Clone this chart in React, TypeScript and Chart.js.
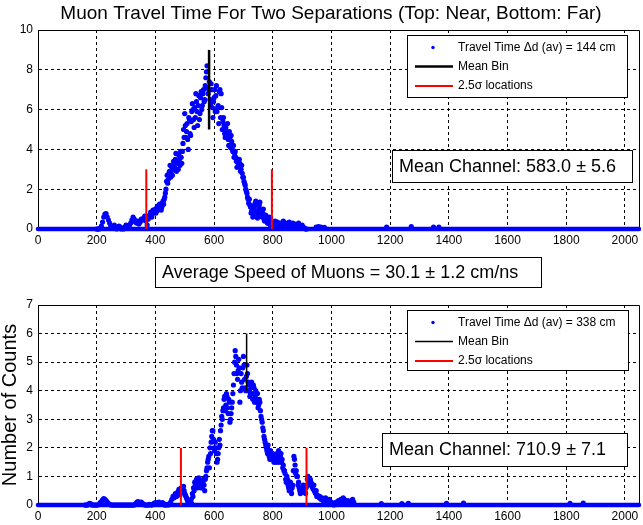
import React, { useEffect, useRef } from 'react';
import { Chart, registerables } from 'chart.js';

Chart.register(...registerables);

const FONT = '"Liberation Sans", Arial, Helvetica, sans-serif';
const BLUE = '#0000ff';
const RED = '#ff0000';

// ---------------- data ----------------
const chartTitle = 'Muon Travel Time For Two Separations (Top: Near, Bottom: Far)';
const yAxisTitle = 'Number of Counts';
const channelMax = 2048;
const channelStep = 4;
const xTickStep = 200;

// Near separation (top panel)
const nearLabel = 'Travel Time \u0394d (av) = 144 cm';
const nearStartChannel = 200;
const nearCounts = [
  0, 0, 0, 0.05, 0.15, 0.35, 0.6, 0.75, 0.78, 0.6,
  0.45, 0.3, 0.15, 0.05, 0.1, 0.2, 0.1, 0, 0.05, 0.15,
  0.1, 0, 0.05, 0, 0.1, 0.2, 0.1, 0.05, 0.2, 0.3,
  0.45, 0.6, 0.5, 0.35, 0.3, 0.4, 0.25, 0.35, 0.5, 0.45,
  0.55, 0.65, 0.4, 0.2, 0.5, 0.7, 0.85, 0.6, 0.95, 0.8,
  1.0, 0.9, 1.15, 1.0, 1.2, 0.95, 1.3, 1.25, 1.6, 2.0,
  2.7, 2.5, 2.9, 2.6, 3.1, 3.0, 3.3, 3.5, 2.9, 3.4,
  3.7, 3.2, 3.6, 3.9, 5.0, 5.8, 4.6, 5.3, 4.0, 5.5,
  4.7, 5.9, 6.0, 5.1, 5.6, 6.4, 5.2, 6.7, 5.8, 6.9,
  6.2, 7.0, 6.5, 7.6, 8.2, 6.8, 7.4, 6.3, 7.0, 5.6,
  6.6, 5.9, 7.2, 6.1, 5.3, 7.0, 6.8, 5.0, 5.6, 4.8,
  5.1, 4.7, 4.5, 4.9, 4.1, 4.4, 3.9, 3.6, 3.9, 3.4,
  3.5, 3.2, 3.3, 3.0, 2.8, 2.6, 2.3, 2.0, 1.8, 1.5,
  1.5, 1.1, 0.9, 0.6, 1.0, 1.3, 0.8, 0.55, 1.1, 1.35,
  0.9, 0.6, 1.0, 0.4, 0.7, 0.5, 0.3, 0.6, 0.2, 0.05,
  0.3, 0.2, 0.4, 0.15, 0.35, 0.25, 0.1, 0.3, 0.2, 0.4,
  0.2, 0.3, 0.1, 0.25, 0.35, 0.2, 0.1, 0.3, 0.15, 0.25,
  0.1, 0.2, 0.3, 0.15, 0.05, 0.2, 0.1, 0.05, 0, 0,
];
// in-between channels (402, 406, ... 798)
const nearMidStartChannel = 402;
const nearMidCounts = [
  0.8, 1.1, 0.95, 1.25, 1.05, 1.1, 1.4, 1.5, 1.8, 2.4,
  2.3, 2.8, 3.2, 2.8, 2.7, 3.4, 3.1, 3.8, 3.3, 3.0,
  3.5, 3.9, 3.3, 4.3, 4.6, 5.2, 4.9, 4.5, 5.6, 4.8,
  5.4, 6.3, 5.5, 6.1, 6.8, 5.9, 6.2, 5.5, 6.6, 6.0,
  6.8, 6.4, 7.2, 7.9, 7.1, 7.0, 6.5, 7.3, 6.1, 6.4,
  7.0, 6.7, 5.9, 6.2, 6.9, 5.6, 6.1, 5.4, 5.2, 4.6,
  4.9, 5.3, 4.2, 4.6, 4.7, 4.0, 4.2, 3.8, 3.6, 3.1,
  3.3, 3.5, 2.9, 3.2, 2.6, 2.4, 2.2, 1.9, 1.6, 1.3,
  1.2, 0.8, 1.1, 0.7, 1.2, 1.4, 0.9, 0.7, 1.2, 1.0,
  0.7, 0.8, 0.5, 0.6, 0.45, 0.3, 0.5, 0.35, 0.1, 0.2,
];
const nearExtraChannels = [948, 956, 964, 976, 1188, 1272, 1348, 1366];
const nearExtraCounts = [0.1, 0.12, 0.1, 0.08, 0.1, 0.12, 0.1, 0.1];
const nearMeanChannel = 583.0;
const nearMeanError = 5.6;
const nearMeanBinSpan = [5, 9];
const nearSigmaChannels = [369, 797];
const nearSigmaSpan = [0, 3];
const nearYMax = 10;
const nearYStep = 2;

// Far separation (bottom panel)
const farLabel = 'Travel Time \u0394d (av) = 338 cm';
const farStartChannel = 160;
const farCounts = [
  0, 0, 0, 0.03, 0.06, 0.04, 0, 0, 0, 0,
  0, 0, 0.03, 0.08, 0.12, 0.18, 0.22, 0.2, 0.15, 0.1,
  0.05, 0.02, 0, 0, 0, 0, 0, 0, 0, 0,
  0, 0, 0, 0, 0, 0, 0, 0, 0, 0,
  0, 0, 0, 0.03, 0.08, 0.12, 0.1, 0.06, 0.1, 0.05,
  0.03, 0, 0, 0, 0, 0.02, 0, 0, 0.03, 0.06,
  0.08, 0.05, 0.08, 0.1, 0.06, 0.04, 0.08, 0.05, 0, 0,
  0.02, 0, 0.03, 0.1, 0.2, 0.3, 0.25, 0.4, 0.3, 0.45,
  0.55, 0.35, 0.6, 0.45, 0.65, 0.4, 0.3, 0.2, 0.1, 0.05,
  0.1, 0.05, 0.3, 0.5, 0.7, 0.9, 0.6, 0.95, 0.7, 0.8,
  0.6, 0.9, 0.5, 1.0, 1.3, 1.6, 1.3, 1.8, 2.4, 2.6,
  2.0, 2.2, 1.8, 1.6, 2.0, 2.1, 2.8, 3.0, 3.4, 3.8,
  3.5, 3.8, 3.2, 3.6, 3.0, 3.4, 3.9, 4.6, 5.4, 4.9,
  4.4, 5.1, 3.6, 4.6, 4.1, 5.2, 4.4, 4.0, 4.9, 4.3,
  4.2, 3.9, 4.3, 3.7, 4.1, 3.8, 3.6, 3.9, 3.5, 3.6,
  3.1, 2.9, 2.6, 2.3, 2.1, 1.9, 2.1, 1.7, 1.9, 1.6,
  1.8, 1.5, 1.7, 1.6, 1.5, 1.9, 1.5, 1.8, 1.6, 1.4,
  1.2, 0.9, 1.0, 0.7, 0.5, 0.8, 0.4, 0.7, 1.7, 1.4,
  1.2, 1.0, 0.8, 0.5, 0.6, 0.45, 0.7, 0.5, 0.4, 0.7,
  1.0, 0.8, 0.9, 0.75, 0.6, 0.7, 0.45, 0.5, 0.35, 0.3,
  0.3, 0.2, 0.25, 0.15, 0.2, 0.25, 0.15, 0.1, 0.2, 0.05,
  0.1, 0.05, 0, 0.05, 0.1, 0.05, 0.15, 0.1, 0.2, 0.1,
  0.25, 0.2, 0.1, 0.05, 0.15, 0.1, 0.05, 0.1, 0.2, 0.1,
];
// in-between channels (482, 486, ... 958)
const farMidStartChannel = 482;
const farMidCounts = [
  0.45, 0.5, 0.55, 0.6, 0.5, 0.35, 0.25, 0.15, 0.05, 0.1,
  0.2, 0.4, 0.6, 0.8, 0.75, 0.7, 0.85, 0.8, 0.6, 0.7,
  0.8, 0.7, 0.9, 1.2, 1.5, 1.7, 2.0, 2.2, 2.6, 2.3,
  1.9, 2.0, 1.5, 1.8, 2.3, 2.6, 3.1, 3.3, 3.7, 3.3,
  3.9, 3.4, 3.7, 2.9, 3.2, 3.6, 4.2, 5.0, 5.2, 4.6,
  4.7, 4.8, 4.0, 4.3, 4.8, 4.9, 4.1, 4.5, 4.6, 4.0,
  3.8, 4.1, 3.9, 4.2, 3.6, 4.0, 3.7, 3.4, 3.7, 3.3,
  3.0, 2.7, 2.4, 2.2, 2.0, 1.8, 1.9, 1.6, 1.7, 1.8,
  1.6, 1.7, 1.5, 1.8, 1.7, 1.6, 1.7, 1.5, 1.3, 1.2,
  1.1, 0.8, 0.9, 0.6, 0.7, 0.5, 0.6, 1.2, 1.6, 1.1,
  1.0, 0.7, 0.6, 0.4, 0.5, 0.6, 0.55, 0.45, 0.6, 0.9,
  0.9, 0.7, 0.8, 0.65, 0.55, 0.5, 0.4, 0.3, 0.3, 0.25,
];
const farExtraChannels = [1170, 1240, 1262, 1392, 1450, 1813, 1858];
const farExtraCounts = [0.05, 0.05, 0.06, 0.06, 0.07, 0.06, 0.07];
const farMeanChannel = 710.9;
const farMeanError = 7.1;
const farMeanBinSpan = [4, 6];
const farSigmaChannels = [487, 915];
const farSigmaSpan = [0, 2];
const farYMax = 7;
const farYStep = 1;

const speedValue = 30.1;
const speedError = 1.2;

const meanBinLabel = 'Mean Bin';
const sigmaLabel = '2.5\u03c3 locations';

// ---------------- helpers ----------------
const al = (v: number) => Math.round(v - 0.5) + 0.5;

function buildPoints(
  start: number,
  counts: number[],
  midStart: number,
  midCounts: number[],
  exCh: number[],
  exCounts: number[]
) {
  const pts = counts.map((y, i) => ({ x: start + i * channelStep, y }));
  midCounts.forEach((y, i) => pts.push({ x: midStart + i * channelStep, y }));
  exCh.forEach((x, i) => pts.push({ x, y: exCounts[i] }));
  return pts;
}

type NoteBox = { text: string; dx: number; dy: number; w: number; h: number };

type Panel = {
  points: { x: number; y: number }[];
  label: string;
  meanChannel: number;
  meanBinSpan: number[];
  sigmaChannels: number[];
  sigmaSpan: number[];
  yMax: number;
  yStep: number;
  padTop: number;
  xAxisHeight: number;
  meanLineWidth: number;
  legendBox: { dx: number; dy: number; w: number; h: number };
  notes: NoteBox[];
  title?: string;
  yTitle?: string;
};

function decorPlugin(p: Panel) {
  return {
    id: 'matlabDecor',
    beforeDatasetsDraw(chart: any) {
      const { ctx, chartArea: a } = chart;
      ctx.save();
      ctx.setLineDash([]);
      ctx.strokeStyle = '#000';
      ctx.lineWidth = 1;
      ctx.beginPath();
      ctx.moveTo(al(a.left), al(a.top));
      ctx.lineTo(al(a.right), al(a.top));
      ctx.lineTo(al(a.right), al(a.bottom));
      ctx.stroke();
      ctx.restore();
    },
    afterDraw(chart: any) {
      const { ctx, chartArea: a } = chart;
      ctx.save();
      ctx.setLineDash([]);
      ctx.fillStyle = '#000';
      if (p.title) {
        ctx.font = `19px ${FONT}`;
        ctx.textAlign = 'center';
        ctx.textBaseline = 'middle';
        ctx.fillText(p.title, a.left + 293, 14);
      }
      // legend
      const L = p.legendBox;
      const lx = Math.round(a.left + L.dx);
      const ly = Math.round(a.top + L.dy);
      ctx.fillStyle = '#fff';
      ctx.fillRect(lx, ly, L.w, L.h);
      ctx.strokeStyle = '#000';
      ctx.lineWidth = 1;
      ctx.strokeRect(lx + 0.5, ly + 0.5, L.w, L.h);
      const rows = [ly + 12.5, ly + 31.5, ly + 51];
      ctx.fillStyle = BLUE;
      ctx.beginPath();
      ctx.arc(lx + 26, rows[0], 1.7, 0, Math.PI * 2);
      ctx.fill();
      ctx.lineWidth = p.meanLineWidth;
      ctx.strokeStyle = '#000';
      ctx.beginPath();
      ctx.moveTo(lx + 8, rows[1]);
      ctx.lineTo(lx + 46, rows[1]);
      ctx.stroke();
      ctx.lineWidth = 2;
      ctx.strokeStyle = RED;
      ctx.beginPath();
      ctx.moveTo(lx + 8, rows[2]);
      ctx.lineTo(lx + 46, rows[2]);
      ctx.stroke();
      ctx.fillStyle = '#000';
      ctx.font = `12px ${FONT}`;
      ctx.textAlign = 'left';
      ctx.textBaseline = 'middle';
      ctx.fillText(p.label, lx + 51, rows[0]);
      ctx.fillText(meanBinLabel, lx + 51, rows[1]);
      ctx.fillText(sigmaLabel, lx + 51, rows[2]);
      // note boxes
      ctx.font = `18px ${FONT}`;
      p.notes.forEach((n) => {
        const bx = Math.round(a.left + n.dx);
        const by = Math.round(a.top + n.dy);
        ctx.fillStyle = '#fff';
        ctx.fillRect(bx, by, n.w, n.h);
        ctx.strokeStyle = '#000';
        ctx.lineWidth = 1;
        ctx.strokeRect(bx + 0.5, by + 0.5, n.w, n.h);
        ctx.fillStyle = '#000';
        ctx.fillText(n.text, bx + 7, by + n.h / 2 + 1);
      });
      ctx.restore();
    },
  };
}

function makeConfig(p: Panel): any {
  const datasets: any[] = [
    {
      label: 'baseline',
      data: [{ x: 0, y: 0 }, { x: channelMax, y: 0 }],
      showLine: true,
      borderColor: BLUE,
      borderWidth: 4.5,
      borderCapStyle: 'round',
      pointRadius: 0,
      order: 4,
      clip: false,
    },
    {
      label: p.label,
      data: p.points,
      showLine: false,
      pointRadius: 2.6,
      pointBackgroundColor: BLUE,
      pointBorderWidth: 0,
      borderColor: BLUE,
      order: 3,
      clip: false,
    },
    {
      label: meanBinLabel,
      data: [
        { x: p.meanChannel, y: p.meanBinSpan[0] },
        { x: p.meanChannel, y: p.meanBinSpan[1] },
      ],
      showLine: true,
      borderColor: '#000',
      borderWidth: p.meanLineWidth,
      pointRadius: 0,
      order: 2,
    },
    ...p.sigmaChannels.map((c) => ({
      label: sigmaLabel,
      data: [
        { x: c, y: p.sigmaSpan[0] },
        { x: c, y: p.sigmaSpan[1] },
      ],
      showLine: true,
      borderColor: RED,
      borderWidth: 2,
      pointRadius: 0,
      order: 1,
    })),
  ];
  const grid = { color: '#000', lineWidth: 1, drawTicks: false };
  const border = { display: true, color: '#000', width: 1, dash: [3, 3] };
  return {
    type: 'scatter',
    data: { datasets },
    options: {
      responsive: false,
      animation: false,
      events: [],
      layout: { padding: { top: p.padTop, right: 4, left: 0, bottom: 0 } },
      plugins: {
        legend: { display: false },
        tooltip: { enabled: false },
        title: { display: false },
      },
      scales: {
        x: {
          type: 'linear',
          min: 0,
          max: channelMax,
          afterFit: (s: any) => {
            s.height = p.xAxisHeight;
          },
          ticks: {
            stepSize: xTickStep,
            includeBounds: false,
            padding: 4,
            maxRotation: 0,
            autoSkip: false,
            color: '#000',
            font: { size: 12, family: FONT },
            callback: (v: any) => String(v),
          },
          grid,
          border,
        },
        y: {
          type: 'linear',
          min: 0,
          max: p.yMax,
          afterFit: (s: any) => {
            s.width = 38;
          },
          ticks: {
            stepSize: p.yStep,
            padding: 5,
            color: '#000',
            font: { size: 12, family: FONT },
            callback: (v: any) => String(v),
          },
          grid,
          border,
          title: p.yTitle
            ? {
                display: true,
                text: p.yTitle,
                color: '#000',
                padding: 0,
                font: { size: 20, family: FONT, lineHeight: 1 },
              }
            : { display: false },
        },
      },
    },
    plugins: [decorPlugin(p)],
  };
}

const nearPanel: Panel = {
  points: buildPoints(
    nearStartChannel,
    nearCounts,
    nearMidStartChannel,
    nearMidCounts,
    nearExtraChannels,
    nearExtraCounts
  ),
  label: nearLabel,
  meanChannel: nearMeanChannel,
  meanBinSpan: nearMeanBinSpan,
  sigmaChannels: nearSigmaChannels,
  sigmaSpan: nearSigmaSpan,
  yMax: nearYMax,
  yStep: nearYStep,
  padTop: 30,
  xAxisHeight: 21,
  meanLineWidth: 2.5,
  legendBox: { dx: 369, dy: 5, w: 220, h: 62 },
  notes: [
    {
      text: `Mean Channel: ${nearMeanChannel.toFixed(1)} \u00b1 ${nearMeanError.toFixed(1)}`,
      dx: 354,
      dy: 120,
      w: 240,
      h: 32,
    },
  ],
  title: chartTitle,
};

const farPanel: Panel = {
  points: buildPoints(
    farStartChannel,
    farCounts,
    farMidStartChannel,
    farMidCounts,
    farExtraChannels,
    farExtraCounts
  ),
  label: farLabel,
  meanChannel: farMeanChannel,
  meanBinSpan: farMeanBinSpan,
  sigmaChannels: farSigmaChannels,
  sigmaSpan: farSigmaSpan,
  yMax: farYMax,
  yStep: farYStep,
  padTop: 55,
  xAxisHeight: 20,
  meanLineWidth: 1.5,
  legendBox: { dx: 369, dy: 5, w: 221, h: 60 },
  notes: [
    {
      text: `Mean Channel: ${farMeanChannel.toFixed(1)} \u00b1 ${farMeanError.toFixed(1)}`,
      dx: 344,
      dy: 128,
      w: 245,
      h: 33,
    },
    {
      text: `Average Speed of Muons = ${speedValue.toFixed(1)} \u00b1 ${speedError.toFixed(1)} cm/ns`,
      dx: 117,
      dy: -48,
      w: 386,
      h: 30,
    },
  ],
  yTitle: yAxisTitle,
};

function PanelChart({ panel, height }: { panel: Panel; height: number }) {
  const ref = useRef<HTMLCanvasElement | null>(null);
  useEffect(() => {
    if (!ref.current) return;
    const chart = new Chart(ref.current, makeConfig(panel));
    return () => chart.destroy();
  }, [panel]);
  return <canvas ref={ref} width={643} height={height} style={{ display: 'block', width: 643, height }} />;
}

export default function App() {
  return (
    <div
      style={{
        position: 'absolute',
        left: 0,
        top: 0,
        width: 643,
        height: 525,
        background: '#fff',
        overflow: 'hidden',
      }}
    >
      <PanelChart panel={nearPanel} height={250} />
      <PanelChart panel={farPanel} height={275} />
    </div>
  );
}
